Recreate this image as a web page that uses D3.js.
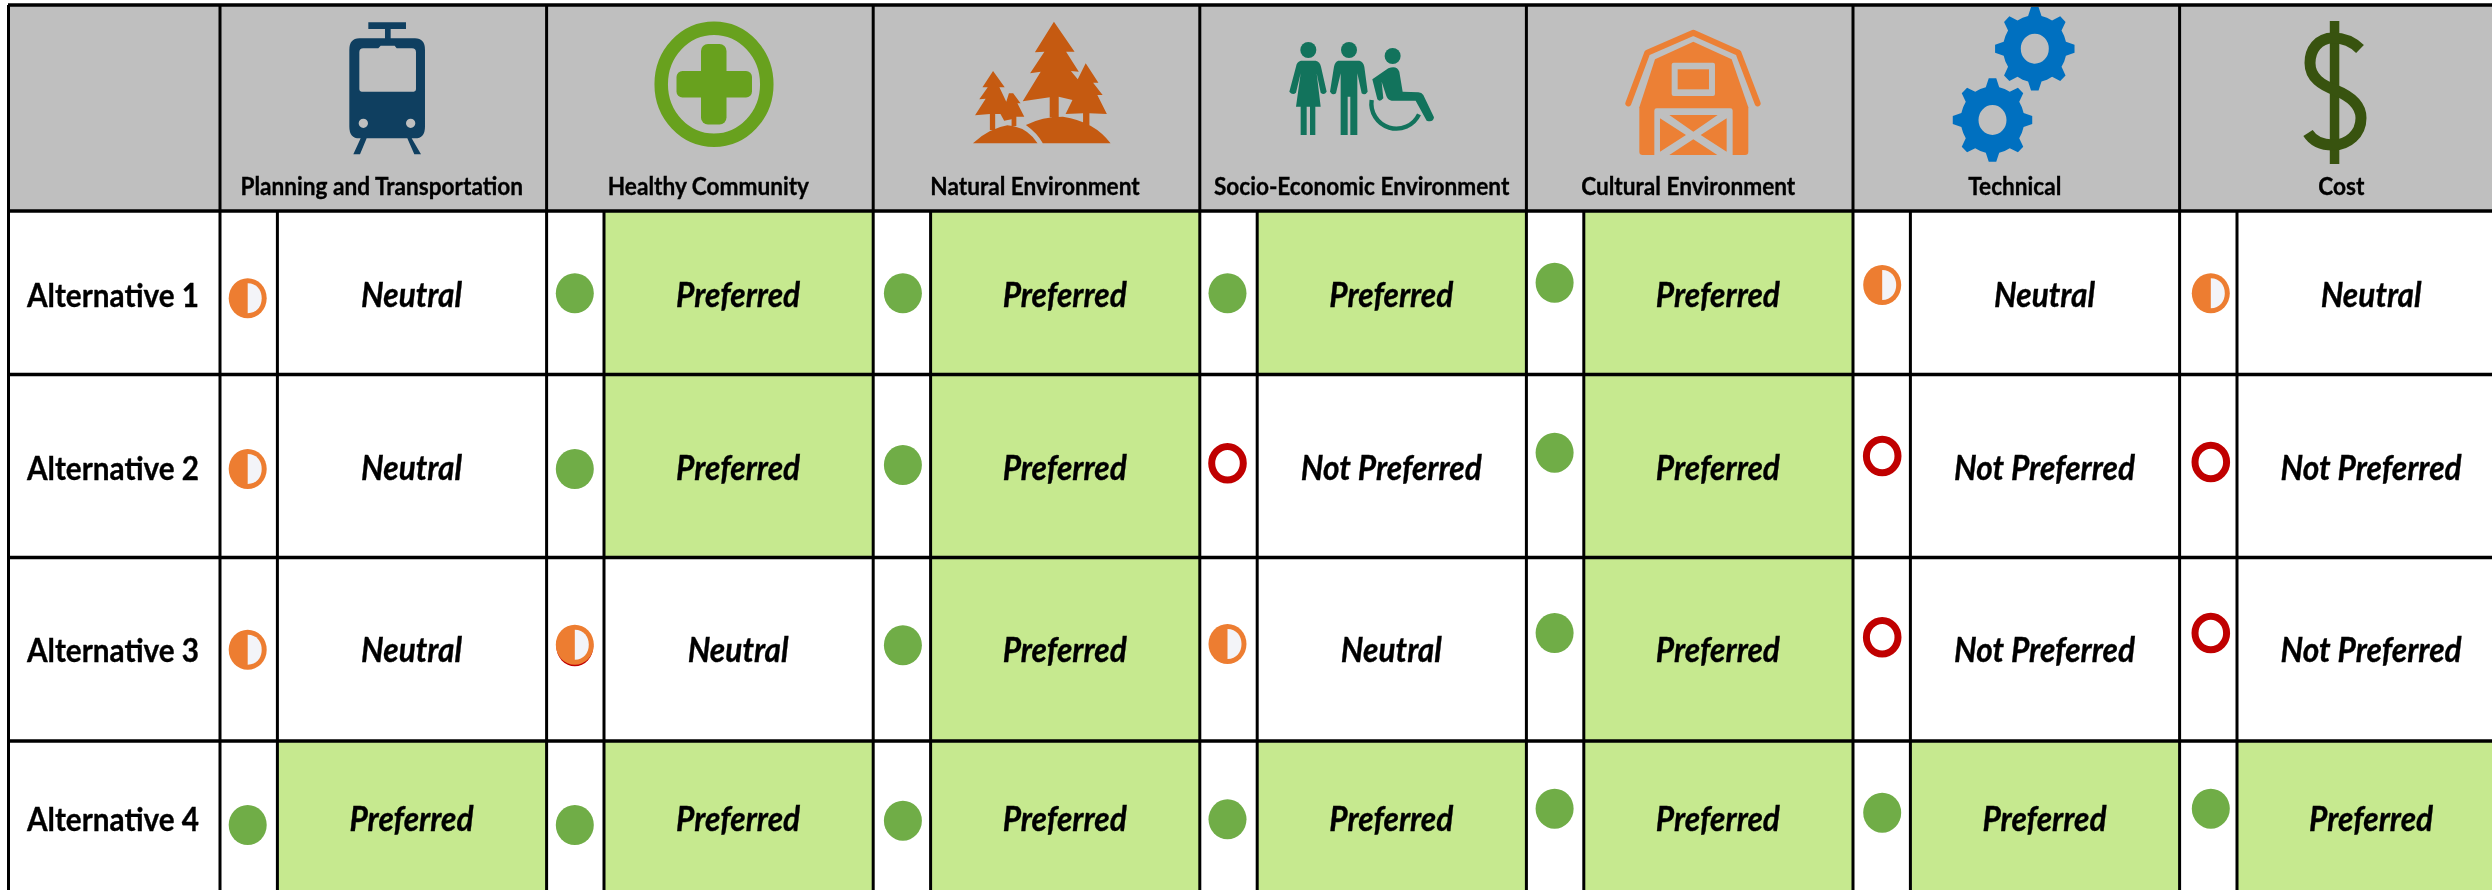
<!DOCTYPE html>
<html><head><meta charset="utf-8">
<script src="https://cdn.jsdelivr.net/npm/d3@7/dist/d3.min.js"></script>
<style>html,body{margin:0;padding:0;background:#fff;overflow:hidden}svg{display:block;filter:blur(0.5px)}text{font-family:Lato,Carlito,"Open Sans",sans-serif;font-weight:700;fill:#000;stroke:#000;stroke-width:.35px}</style>
</head><body><svg id="c" width="2492" height="890"></svg>
<script>
const criteria = ["Planning and Transportation","Healthy Community","Natural Environment","Socio-Economic Environment","Cultural Environment","Technical","Cost"];
const alternatives = ["Alternative 1","Alternative 2","Alternative 3","Alternative 4"];
const ratingsAlt1 = ["Neutral","Preferred","Preferred","Preferred","Preferred","Neutral","Neutral"];
const ratingsAlt2 = ["Neutral","Preferred","Preferred","Not Preferred","Preferred","Not Preferred","Not Preferred"];
const ratingsAlt3 = ["Neutral","Neutral","Preferred","Neutral","Preferred","Not Preferred","Not Preferred"];
const ratingsAlt4 = ["Preferred","Preferred","Preferred","Preferred","Preferred","Preferred","Preferred"];
const ratings = [ratingsAlt1,ratingsAlt2,ratingsAlt3,ratingsAlt4];

// layout tables (kept apart from the values)
const rowEdges = [211,374.5,557.5,741,899];
const rowBaselines = [307,480,662,831];
const markerNudgeY = [[5.5,.5,.5,.5,-10,-7.75,.5],[3,3,-1,-2.7,-13.3,-10,-4],[.5,-4.5,-4,-5.25,-16.25,-12,-16.25],[5,5,.7,-.7,-11.3,-7.3,-11.3]];
const markerNudgeX = [-1,-.5,1,-1,-.5,.5,2.5];
const GREEN="#70AD47",ORANGE="#ED7D31",RED="#C00000",CELL="#C6E98F",HEAD="#BFBFBF";

const svg=d3.select("#c");
const x=d3.scaleBand().domain(criteria).range([220,220+326.6*7]).padding(0);
const markerW=57.4;
const rowTop=d3.scaleOrdinal(alternatives,rowEdges);
const rowBottom=d3.scaleOrdinal(alternatives,rowEdges.slice(1));
const rowMid=a=>(rowTop(a)+rowBottom(a))/2;
const baseline=d3.scaleOrdinal(alternatives,rowBaselines);

const cells=alternatives.flatMap((a,r)=>criteria.map((c,k)=>({a,c,r,k,v:ratings[r][k]})));

function fit(sel,f){sel.each(function(){const w=this.getComputedTextLength();d3.select(this).attr("textLength",w*f).attr("lengthAdjust","spacingAndGlyphs");});}

// header and cell fills
svg.append("rect").attr("x",8).attr("y",5).attr("width",2484).attr("height",206).attr("fill",HEAD);
svg.append("g").selectAll("rect").data(cells.filter(d=>d.v==="Preferred")).join("rect")
 .attr("x",d=>x(d.c)+markerW).attr("y",d=>rowTop(d.a)).attr("width",x.bandwidth()-markerW).attr("height",d=>rowBottom(d.a)-rowTop(d.a)).attr("fill",CELL);

// grid
const grid=svg.append("g").attr("stroke","#000");
grid.selectAll(".h").data([5,...rowEdges.slice(0,4)]).join("line").attr("x1",8).attr("x2",2492).attr("y1",d=>d).attr("y2",d=>d).attr("stroke-width",3.4);
grid.append("line").attr("x1",8.5).attr("x2",8.5).attr("y1",5).attr("y2",890).attr("stroke-width",3);
grid.selectAll(".v").data(criteria).join("line").attr("x1",d=>x(d)).attr("x2",d=>x(d)).attr("y1",5).attr("y2",890).attr("stroke-width",3);
grid.selectAll(".m").data(criteria).join("line").attr("x1",d=>x(d)+markerW).attr("x2",d=>x(d)+markerW).attr("y1",211).attr("y2",890).attr("stroke-width",3);

// labels
svg.append("g").selectAll("text").data(criteria).join("text")
 .attr("x",d=>x(d)+x.bandwidth()/2-1.5).attr("y",195).attr("text-anchor","middle").attr("font-size",25).text(d=>d).call(fit,.905);
svg.append("g").selectAll("text").data(alternatives).join("text")
 .attr("x",113).attr("y",d=>baseline(d)).attr("text-anchor","middle").attr("font-size",33).text(d=>d).call(fit,.9);
svg.append("g").selectAll("text").data(cells).join("text")
 .attr("x",d=>x(d.c)+markerW+(x.bandwidth()-markerW)/2-.5).attr("y",d=>baseline(d.a)).attr("text-anchor","middle")
 .attr("font-size",34).attr("font-style","italic").text(d=>d.v).call(fit,.93);

// markers
const mark=svg.append("g").selectAll("g").data(cells).join("g")
 .attr("transform",d=>`translate(${x(d.c)+markerW/2+markerNudgeX[d.k]},${rowMid(d.a)+markerNudgeY[d.r][d.k]})`);
mark.filter(d=>d.v==="Preferred").append("ellipse").attr("rx",19).attr("ry",20).attr("fill",GREEN);
mark.filter(d=>d.v==="Not Preferred").append("ellipse").attr("rx",15.8).attr("ry",16.8).attr("fill","#fff").attr("stroke",RED).attr("stroke-width",7);
const neu=mark.filter(d=>d.v==="Neutral");
neu.filter(d=>d.r===2&&d.k===1).append("ellipse").attr("cy",1.5).attr("rx",18.5).attr("ry",20).attr("fill",RED);
neu.append("ellipse").attr("rx",19).attr("ry",20).attr("fill",ORANGE);
neu.append("path").attr("d","M0 -15 C9 -15 14 -8 14 0 C14 8 9 15 0 15 Z").attr("fill","#F3F4F8");

// header icons
const icons=svg.append("g");
// train
const t=icons.append("g").attr("transform","translate(320,10) scale(.3333)").attr("fill","#0F3F60");
t.append("path").attr("fill-rule","evenodd").attr("d","M145 37H258V57H212V85H285Q315 85 315 120V350Q315 385 285 385H275L303 433H283L262 385H140L120 433H100L122 385H118Q88 385 88 350V120Q88 85 118 85H195V57H145Z M130 115Q118 115 118 127V238Q118 245 125 245H281Q288 245 288 238V127Q288 115 276 115H230L224 107H182L175 115Z M130 326A14 14 0 1 0 130 354A14 14 0 1 0 130 326Z M272 326A14 14 0 1 0 272 354A14 14 0 1 0 272 326Z");
// health
const h=icons.append("g").attr("fill","#68A11E");
h.append("ellipse").attr("cx",714).attr("cy",84.3).attr("rx",52.8).attr("ry",56).attr("fill","none").attr("stroke","#68A11E").attr("stroke-width",13.5);
h.append("rect").attr("x",676.5).attr("y",71).attr("width",75.5).attr("height",26.5).attr("rx",6);
h.append("rect").attr("x",701).attr("y",44).attr("width",25.5).attr("height",80.5).attr("rx",7);
// trees
icons.append("g").attr("transform","translate(830,0) scale(.5294,.3333)").append("path").attr("fill","#C55A11")
 .attr("d","M423 65L462 155L446 155L470 215L455 213L468 238L483 190L507 248L497 248L515 285L505 285L523 342L490 340V378L478 375V340L445 342L458 300L432 290V352H415V292L364 304L398 215L378 220L405 155L387 157Z M308 213L330 262L320 262L335 312L330 320L338 280L346 280L360 310L354 310L367 350L352 350V378H343V358L329 362L322 342H312V390H302V342L274 346L294 296L282 298L298 262L288 262Z M270 430Q300 385 335 376Q372 380 392 430Z M402 430Q392 400 370 375Q400 350 440 350Q500 365 530 430Z");
// people
const p=icons.append("g").attr("transform","translate(1270,30) scale(.3333)").attr("fill","#12735C");
p.append("circle").attr("cx",115).attr("cy",60).attr("r",24);
p.append("circle").attr("cx",237).attr("cy",60).attr("r",24);
p.append("circle").attr("cx",368).attr("cy",78).attr("r",24);
p.append("path").attr("d","M93 92H137Q150 95 153 110L170 185Q162 198 152 188L140 130L152 230H136V315H120V230H110V315H92V230H78L92 130L78 188Q68 198 58 185L78 110Q80 95 93 92Z");
p.append("path").attr("d","M205 92H268Q280 95 283 110L293 185Q285 198 275 190L262 130V315H241V200H233V315H212V130L198 190Q188 198 180 185L192 110Q195 95 205 92Z");
p.append("path").attr("d","M307 148L355 115Q380 105 388 125L398 185L445 187Q455 187 460 195L492 262Q490 278 470 272L437 212L365 212Q352 210 348 195L335 155L340 205Q330 218 322 208Z");
p.append("path").attr("d","M305 210A75 75 0 0 0 447 253").attr("fill","none").attr("stroke","#12735C").attr("stroke-width",13);
// barn
const b=icons.append("g").attr("transform","translate(1610,20) scale(.3333)");
b.append("path").attr("d","M55 250L112 98L250 38L385 98L443 250").attr("fill","none").attr("stroke","#EC8035").attr("stroke-width",18).attr("stroke-linecap","round").attr("stroke-linejoin","round");
b.append("path").attr("fill","#EC8035").attr("d","M88 395V262L135 118L250 65L365 118L415 262V395Q415 405 405 405H98Q88 405 88 395Z");
b.append("rect").attr("x",185).attr("y",128).attr("width",130).attr("height",100).attr("rx",6).attr("fill",HEAD);
b.append("rect").attr("x",203).attr("y",148).attr("width",94).attr("height",60).attr("fill","#EC8035");
b.append("path").attr("fill",HEAD).attr("d","M133 272Q133 265 140 265H361Q368 265 368 272V407H133Z");
b.append("path").attr("fill","#EC8035").attr("d","M178 285H323L250 335Z M150 295V395L228 345Z M350 295V395L272 345Z M178 405L250 358L322 405Z");
// gears
function gearPath(cx,cy,R,r,hx,hy,n){
  const pts=[];
  for(let i=0;i<n;i++){const a=-Math.PI/2+i*2*Math.PI/n,w=2*Math.PI/n;
    [[-.5,r],[-.27,r],[-.12,R],[.12,R],[.27,r]].forEach(([f,q])=>pts.push([cx+q*.95*Math.cos(a+f*w),cy+q*Math.sin(a+f*w)]));}
  return "M"+pts.map(q=>q.join(" ")).join("L")+`Z M${cx-hx} ${cy}A${hx} ${hy} 0 1 0 ${cx+hx} ${cy}A${hx} ${hy} 0 1 0 ${cx-hx} ${cy}Z`;
}
icons.append("path").attr("fill","#0070C0").attr("fill-rule","evenodd").attr("d",gearPath(2034.8,48.7,42,33.5,14,15,8)+gearPath(1992.5,120,42,33.5,14,15,8));
// dollar
const dc="#38530F";
icons.append("rect").attr("x",2329.8).attr("y",21).attr("width",9.5).attr("height",143).attr("fill",dc);
icons.append("path").attr("fill","none").attr("stroke",dc).attr("stroke-width",11).attr("d","M2360 49C2352 41 2343 38 2333 38C2318 38 2310 50 2310 63C2310 78 2322 85 2335 90C2350 96 2361 104 2361 118C2361 134 2348 145 2333 145C2322 145 2313 141 2308 133");
</script></body></html>
